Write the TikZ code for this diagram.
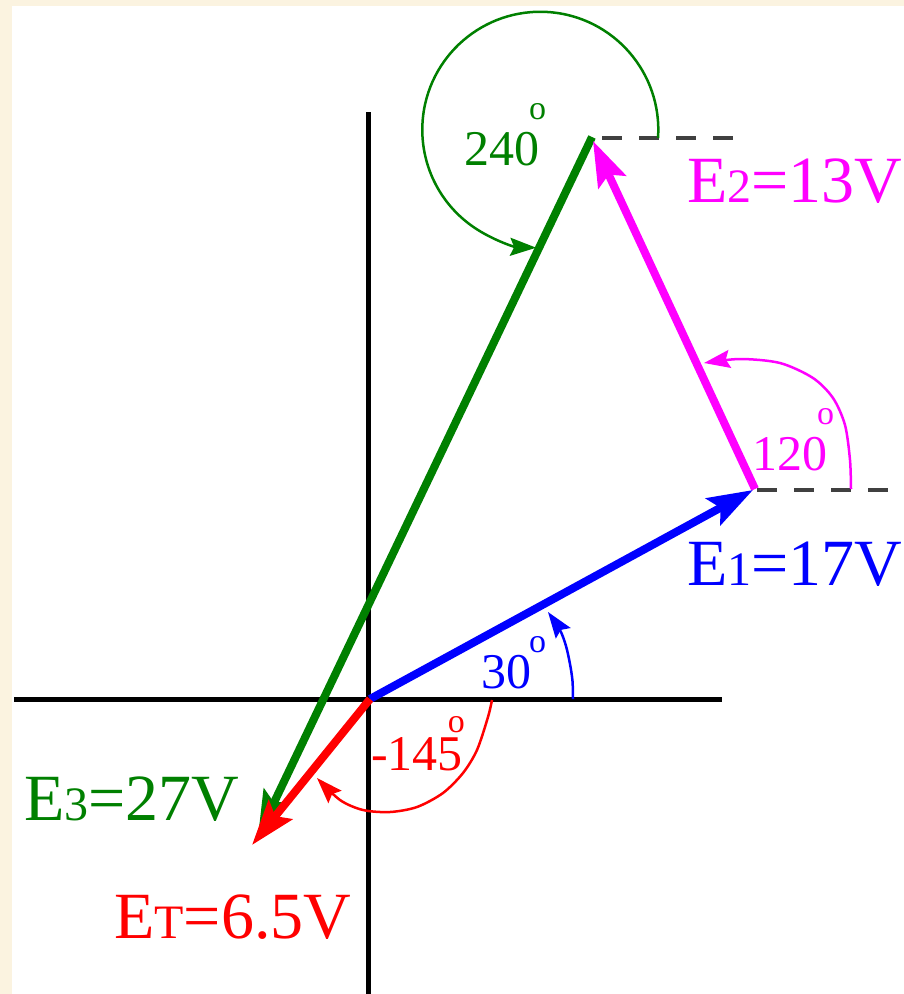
\documentclass[tikz,border=0pt]{standalone}
\usepackage{fontspec}
\setmainfont{Liberation Serif}
\usetikzlibrary{arrows.meta}
\definecolor{cream}{RGB}{251,243,224}
\definecolor{dgreen}{RGB}{0,128,0}
\definecolor{vmag}{RGB}{255,0,255}
\definecolor{vblue}{RGB}{0,0,255}
\definecolor{vred}{RGB}{255,0,0}
\definecolor{dashgray}{RGB}{64,64,64}
\newcommand\vlab[3]{{\fontsize{66pt}{70pt}\selectfont #1{\fontsize{48pt}{50pt}\selectfont #2}#3}}
\newcommand\dlab[3]{{\fontsize{50pt}{52pt}\selectfont #1\kern#2pt\raisebox{#3pt}{\fontsize{34pt}{36pt}\selectfont o}}}
\begin{document}
\begin{tikzpicture}[x=1pt,y=-1pt,
  axisline/.style={line width=5pt,black},
  vec/.style={line width=8pt,-{Stealth[length=45pt,width=30pt,inset=8pt]}},
  ang/.style={line width=2.5pt,-{Stealth[length=26pt,width=18pt,inset=4pt]}},
  guide/.style={dashgray,line width=4pt,dash pattern=on 20pt off 17pt},
  lbl/.style={inner sep=0pt,anchor=base west}]
\useasboundingbox (0,0) rectangle (904,994);
\fill[cream] (0,0) rectangle (904,994);
\fill[white] (12,6) rectangle (904,994);
% coordinates
\coordinate (O) at (370,699);
\coordinate (A) at (753,490);
\coordinate (Bs) at (755,489);
\coordinate (B) at (593,141);
\coordinate (Cs) at (592,137);
\coordinate (C) at (258,836);
\coordinate (T) at (252,845);
\coordinate (xl) at (14,699);
\coordinate (xr) at (722,699);
\coordinate (yt) at (368,112);
\coordinate (yb) at (368,994);
\coordinate (d1s) at (602,138);
\coordinate (d1e) at (741,138);
\coordinate (d2s) at (757,489.5);
\coordinate (d2e) at (894,489.5);
% axes
\draw[axisline] (xl) -- (xr);
\draw[axisline] (yt) -- (yb);
% guides
\draw[guide] (d1s) -- (d1e);
\draw[guide] (d2s) -- (d2e);
% angle arcs
\draw[ang,dgreen] (658,138) arc[start angle=4,end angle=-268,radius=118];
\draw[ang,vmag] plot[smooth] coordinates {(851,489) (850,460) (845,425) (833,398) (813,378) (780,363) (740,359) (704,363)};
\draw[ang,vblue] plot[smooth] coordinates {(573,699) (572.5,681) (570,664) (566,646) (560,630) (548,612)};
\draw[ang,vred] plot[smooth] coordinates {(492,700) (488,717) (477,750) (463,773) (443,793) (417,807) (390,812) (363,810) (340,800) (317,778)};
% vectors
\draw[vec,dgreen] (Cs) -- (C);
\draw[vec,vmag] (Bs) -- (B);
\draw[vec,vblue] (O) -- (A);
\draw[vec,vred] (O) -- (T);
% labels
\node[lbl,vblue] (lE1) at (687,585) {\vlab{E}{1}{=17V}};
\node[lbl,vmag] (lE2) at (687,202) {\vlab{E}{2}{=13V}};
\node[lbl,dgreen] (lE3) at (24,820) {\vlab{E}{3}{=27V}};
\node[lbl,vred] (lET) at (114,938) {\vlab{E}{T}{=6.5V}};
\node[lbl,dgreen] (a240) at (464,165) {\dlab{240}{-10}{46}};
\node[lbl,vmag] (a120) at (752,470) {\dlab{120}{-10}{46}};
\node[lbl,vblue] (a30) at (481,688) {\dlab{30}{-2}{36}};
\node[lbl,vred] (a145) at (371,770) {\dlab{-145}{-15}{38}};
\end{tikzpicture}
\end{document}
